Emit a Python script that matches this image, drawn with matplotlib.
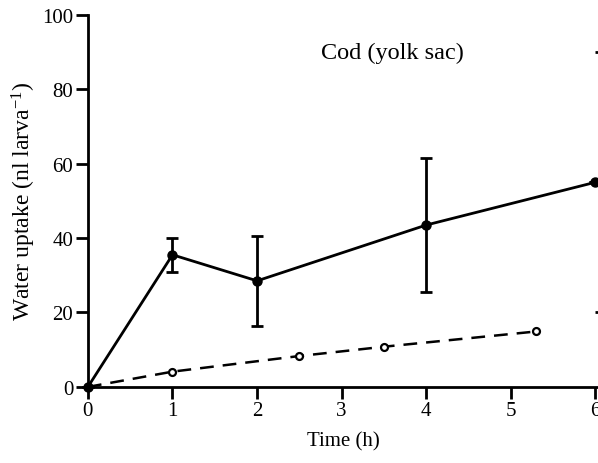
import matplotlib
matplotlib.use("Agg")
import matplotlib.pyplot as plt

# Data
solid_x = [0, 1, 2, 4, 6]
solid_y = [0, 35.5, 28.5, 43.5, 55]
solid_err = [0, 4.5, 12, 18, 0]

dashed_x = [0, 1, 2.5, 3.5, 5.3]
dashed_y = [0, 4.1, 8.3, 10.8, 14.9]

x_ticks = [0, 1, 2, 3, 4, 5, 6]
y_ticks = [0, 20, 40, 60, 80, 100]
right_marks = [20, 90]

title_text = "Cod (yolk sac)"
x_label = "Time (h)"
y_label = "Water uptake (nl larva$^{-1}$)"

plt.rcParams['font.family'] = ['Liberation Serif', 'DejaVu Serif']
plt.rcParams['mathtext.fontset'] = 'custom'
plt.rcParams['mathtext.rm'] = 'Liberation Serif'
plt.rcParams['mathtext.it'] = 'Liberation Serif'

fig = plt.figure(figsize=(5.98, 4.64), dpi=100)
ax = fig.add_axes([0.147, 0.164, 0.853, 0.802])

ax.plot(dashed_x, dashed_y, color='black', lw=1.8, dashes=(5.5, 3.6),
        marker='o', markersize=5, markerfacecolor='white',
        markeredgecolor='black', markeredgewidth=1.6, zorder=3)
ax.errorbar(solid_x, solid_y, yerr=solid_err, color='black', lw=2.0,
            marker='o', markersize=6.5, markerfacecolor='black',
            ecolor='black', elinewidth=2.0, capsize=4.5, capthick=2.0,
            zorder=4, clip_on=False)

ax.set_xlim(0, 6.03)
ax.set_ylim(0, 100)
ax.set_xticks(x_ticks)
ax.set_yticks(y_ticks)
for s in ['top', 'right']:
    ax.spines[s].set_visible(False)
for s in ['left', 'bottom']:
    ax.spines[s].set_linewidth(2.0)
ax.tick_params(axis='both', direction='out', length=8.5, width=2.0,
               labelsize=15, pad=2)

ax.set_xlabel(x_label, fontsize=15, labelpad=8)
ax.set_ylabel(y_label, fontsize=17, labelpad=3)

ax.text(3.6, 90, title_text, fontsize=17.5, ha='center', va='center')

ax2 = ax.twinx()
ax2.set_ylim(ax.get_ylim())
ax2.set_yticks(right_marks)
ax2.set_yticklabels([])
for s in ax2.spines.values():
    s.set_visible(False)
ax2.tick_params(axis='y', direction='in', length=2.5, width=2.0)

fig.savefig('out.png', dpi=100)
